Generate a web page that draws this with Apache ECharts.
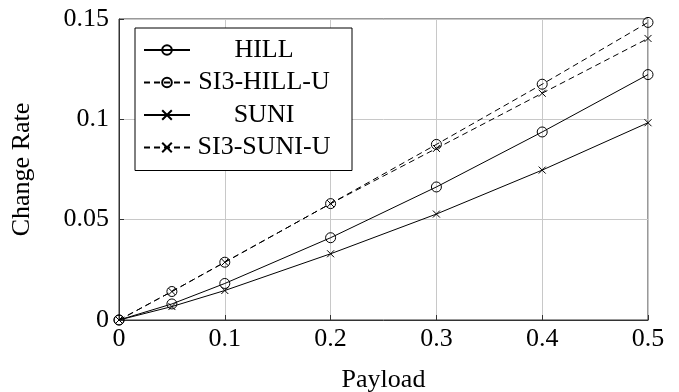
<!DOCTYPE html>
<html><head><meta charset="utf-8">
<script src="https://cdn.jsdelivr.net/npm/echarts@6/dist/echarts.min.js"></script>
<style>html,body{margin:0;padding:0;background:#fff}#c{width:679px;height:392px}</style>
</head><body><div id="c"></div>
<script>
var payload = [0, 0.05, 0.1, 0.2, 0.3, 0.4, 0.5];
var hill = [0, 0.008, 0.0182, 0.041, 0.0663, 0.0937, 0.1223];
var si3Hill = [0, 0.0142, 0.0288, 0.058, 0.0875, 0.1175, 0.1483];
var suni = [0, 0.0067, 0.0147, 0.033, 0.0528, 0.0747, 0.0983];
var si3Suni = [0, 0.0142, 0.0288, 0.058, 0.0855, 0.113, 0.1403];
var names = ['HILL', 'SI3-HILL-U', 'SUNI', 'SI3-SUNI-U'];
var xTicks = [0, 0.1, 0.2, 0.3, 0.4, 0.5];
var yTicks = [0, 0.05, 0.1, 0.15];

var font = '"Liberation Serif", "DejaVu Serif", serif';
var fs = 26;
var crossPath = 'path://M0,0L10,10M10,0L0,10';
function pairs(ys){ return payload.map(function(x,i){ return [x, ys[i]]; }); }
function mk(name, ys, dashed, circle){
  return {
    name: name, type: 'line', data: pairs(ys),
    symbol: circle ? 'circle' : crossPath,
    symbolSize: circle ? 10 : 7,
    showAllSymbol: true,
    lineStyle: {color: '#000', width: 1, type: dashed ? [6, 4] : 'solid'},
    itemStyle: {color: circle ? 'rgba(0,0,0,0)' : '#000', borderColor: '#000', borderWidth: 1},
    emphasis: {disabled: true},
    animation: false, z: 3
  };
}
var chart = echarts.init(document.getElementById('c'), null, {renderer: 'canvas'});
chart.setOption({
  animation: false,
  grid: {left: 119, right: 31, top: 19, bottom: 72, containLabel: false, outerBoundsMode: 'none',
    show: true, borderColor: '#333', borderWidth: 1},
  xAxis: {
    type: 'value', min: 0, max: 0.5, interval: 0.1,
    name: 'Payload', nameLocation: 'middle', nameGap: 47,
    nameTextStyle: {fontFamily: font, fontSize: fs, color: '#000'},
    axisLine: {show: true, lineStyle: {color: '#333'}},
    axisTick: {show: true, inside: true, length: 5, lineStyle: {color: '#333'}},
    axisLabel: {fontFamily: font, fontSize: fs, color: '#000', margin: 6,
      formatter: function(v){ return String(+v.toFixed(2)); }},
    splitLine: {show: true, lineStyle: {color: '#c8c8c8', width: 1}}
  },
  yAxis: {
    type: 'value', min: 0, max: 0.15, interval: 0.05,
    name: 'Change Rate', nameLocation: 'middle', nameGap: 84, nameRotate: 90,
    nameTextStyle: {fontFamily: font, fontSize: fs, color: '#000'},
    axisLine: {show: true, lineStyle: {color: '#333'}},
    axisTick: {show: true, inside: true, length: 5, lineStyle: {color: '#333'}},
    axisLabel: {fontFamily: font, fontSize: fs, color: '#000', margin: 10,
      formatter: function(v){ return String(+v.toFixed(2)); }},
    splitLine: {show: true, lineStyle: {color: '#c8c8c8', width: 1}}
  },
  legend: {
    data: names, orient: 'vertical', left: 135, top: 28,
    backgroundColor: '#fff', borderColor: '#000', borderWidth: 1,
    padding: [9, 19, 10, 8], itemGap: 6.5, itemWidth: 46, itemHeight: 12,
    selectedMode: false,
    formatter: function(n){ return '{a|' + n + '}'; },
    textStyle: {fontFamily: font, fontSize: fs, color: '#000',
      rich: {a: {width: 138, align: 'center', lineHeight: 26, fontFamily: font, fontSize: fs, color: '#000'}}}
  },
  series: [
    mk(names[0], hill, false, true),
    mk(names[1], si3Hill, true, true),
    mk(names[2], suni, false, false),
    mk(names[3], si3Suni, true, false)
  ]
});
</script></body></html>
